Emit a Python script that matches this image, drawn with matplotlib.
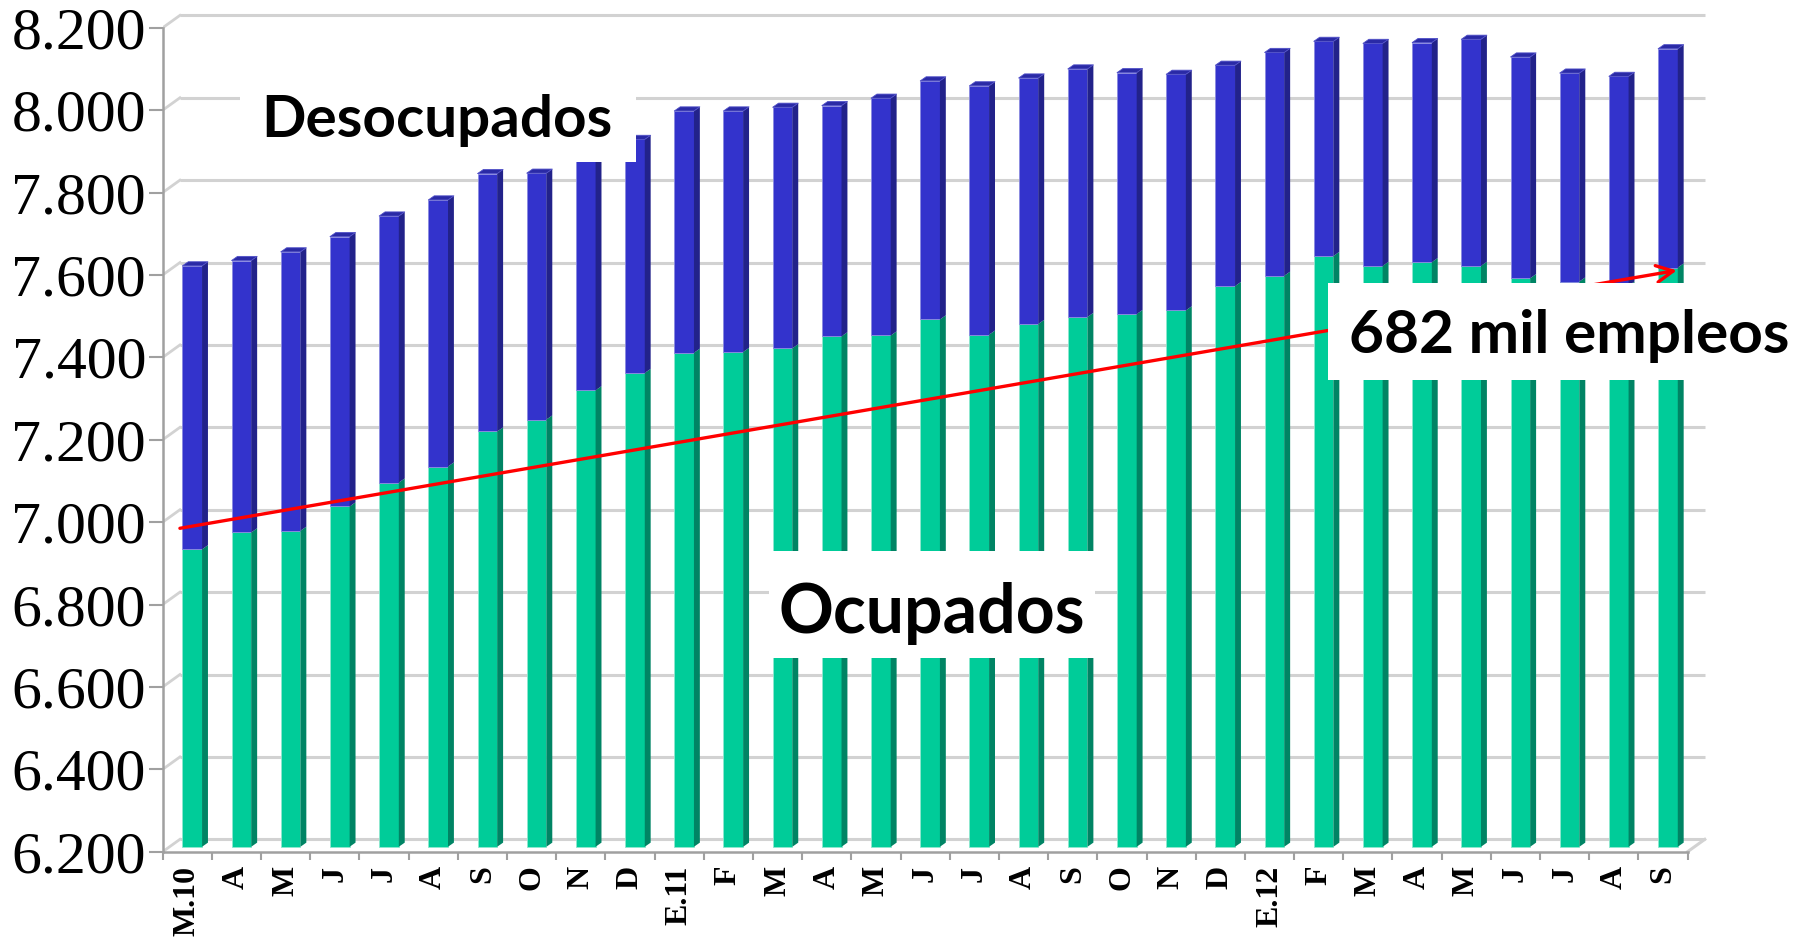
import numpy as np
import matplotlib
matplotlib.use("Agg")
from matplotlib import pyplot as plt
from matplotlib.patches import Rectangle
from matplotlib.collections import PolyCollection
from matplotlib.ticker import FuncFormatter

# months, Mar-2010 .. Sep-2012 (moving quarters)
meses = ["M.10", "A", "M", "J", "J", "A", "S", "O", "N", "D",
         "E.11", "F", "M", "A", "M", "J", "J", "A", "S", "O", "N", "D",
         "E.12", "F", "M", "A", "M", "J", "J", "A", "S"]

# thousands of people
ocupados = [6922, 6963, 6967, 7026, 7084, 7123, 7208, 7237, 7308, 7350,
            7399, 7401, 7410, 7439, 7441, 7480, 7443, 7469, 7486, 7493,
            7502, 7561, 7586, 7634, 7610, 7619, 7610, 7580, 7572, 7562, 7606]
desocupados = [688, 660, 677, 655, 647, 647, 626, 598, 567, 567,
               587, 585, 585, 560, 576, 579, 604, 597, 602, 586,
               573, 536, 542, 521, 540, 533, 550, 537, 506, 508, 531]

y_min, y_max, y_step = 6200, 8200, 200

# pseudo-3D geometry (category units / value units)
back_dx, back_dy = 0.35, 30      # depth of the chart box
bar_ox, bar_oy = -0.10, 12       # front face of the bars
bar_w = 0.40
side_dx, side_dy = 0.12, 10

verde, verde_osc = "#00CC99", "#008464"
azul, azul_osc = "#3333CC", "#22228A"
gris_grid = "#D2D2D2"
gris_eje = "#A0A0A0"

W, H = 1794, 941
fig = plt.figure(figsize=(W / 100, H / 100), dpi=100)
ax = fig.add_axes([162.7 / W, (H - 851.7) / H, 1549.5 / W, 0.8975])

n = len(meses)
x = np.arange(n)
ax.set_xlim(-0.5, n)
ax.set_ylim(y_min, y_min + 2050)

# back wall gridlines and side wall diagonals
for v in range(y_min, y_max + 1, y_step):
    ax.plot([-0.5 + back_dx, n - 0.5 + back_dx], [v + back_dy] * 2,
            color=gris_grid, lw=2.2, zorder=0, solid_capstyle="butt")
    ax.plot([-0.5, -0.5 + back_dx], [v, v + back_dy], color=gris_grid,
            lw=2.0, zorder=0)
ax.plot([n - 0.5, n - 0.5 + back_dx], [y_min, y_min + back_dy],
        color=gris_grid, lw=2.2, zorder=0)

# front faces
ocup = np.array(ocupados)
desoc = np.array(desocupados)
ax.bar(x + bar_ox, ocup - y_min, bar_w, bottom=y_min + bar_oy, align="edge",
       color=verde, edgecolor="#8FE8CF", linewidth=0.6, zorder=2)
ax.bar(x + bar_ox, desoc, bar_w, bottom=ocup + bar_oy, align="edge",
       color=azul, edgecolor="#8A8AE0", linewidth=0.6, zorder=2)

# side faces and top caps
sides_g, sides_b, tops = [], [], []
for i in range(n):
    xl = i + bar_ox
    xr = xl + bar_w
    y0, y1, y2 = y_min + bar_oy, ocup[i] + bar_oy, ocup[i] + desoc[i] + bar_oy
    sides_g.append([(xr, y0), (xr + side_dx, y0 + side_dy),
                    (xr + side_dx, y1 + side_dy), (xr, y1)])
    sides_b.append([(xr, y1), (xr + side_dx, y1 + side_dy),
                    (xr + side_dx, y2 + side_dy), (xr, y2)])
    tops.append([(xl, y2), (xl + side_dx, y2 + side_dy),
                 (xr + side_dx, y2 + side_dy), (xr, y2)])
ax.add_collection(PolyCollection(sides_g, facecolor=verde_osc,
                                 edgecolor="none", zorder=2))
ax.add_collection(PolyCollection(sides_b, facecolor=azul_osc,
                                 edgecolor="none", zorder=2))
ax.add_collection(PolyCollection(tops, facecolor="#2A2AA6",
                                 edgecolor="#5050C8", linewidth=0.6, zorder=2))

# trend arrow
ax.annotate("", xy=(30.28, ocupados[-1] + 5), xytext=(-0.15, 6985),
            arrowprops=dict(arrowstyle="->", color="#FF0000", lw=2.4,
                            mutation_scale=30, shrinkA=0, shrinkB=0),
            zorder=3)

# axes
for s in ["top", "right"]:
    ax.spines[s].set_visible(False)
ax.spines["left"].set_bounds(y_min, y_max)
ax.spines["bottom"].set_bounds(-0.5, n - 0.5)
for s in ["left", "bottom"]:
    ax.spines[s].set_color(gris_eje)
    ax.spines[s].set_linewidth(1.8)

ax.set_yticks(range(y_min, y_max + 1, y_step))
ax.yaxis.set_major_formatter(FuncFormatter(lambda v, p: f"{int(v):,}".replace(",", ".")))
ax.tick_params(axis="y", length=10, width=1.5, color=gris_eje, pad=2,
               labelsize=43)
for t in ax.get_yticklabels():
    t.set_fontfamily("Liberation Serif")

ax.set_xticks(x)
ax.set_xticklabels(meses, rotation=90, fontfamily="Liberation Serif",
                   fontweight="bold", fontsize=23, va="top")
ax.set_xticks(np.arange(-0.5, n), minor=True)
ax.tick_params(axis="x", which="major", length=0, pad=10)
ax.tick_params(axis="x", which="minor", length=6, width=1.5, color=gris_eje)

# white label boxes
def caja(x0, y0, x1, y1):
    fig.add_artist(Rectangle((x0 / W, 1 - y1 / H), (x1 - x0) / W, (y1 - y0) / H,
                             transform=fig.transFigure, facecolor="white",
                             edgecolor="none", zorder=4))

caja(240, 78, 636, 162)
caja(769, 551, 1095, 658)
caja(1328, 283, W, 380)

fuente = dict(fontfamily="Lato", fontweight="bold", color="black", zorder=5,
              ha="center", va="baseline")
fig.text(437 / W, 1 - 137 / H, "Desocupados", fontsize=42, **fuente)
fig.text(932 / W, 1 - 633 / H, "Ocupados", fontsize=49, **fuente)
fig.text(1569 / W, 1 - 353 / H, "682 mil empleos", fontsize=43.5, **fuente)

fig.savefig("out.png", dpi=100, facecolor="white")
